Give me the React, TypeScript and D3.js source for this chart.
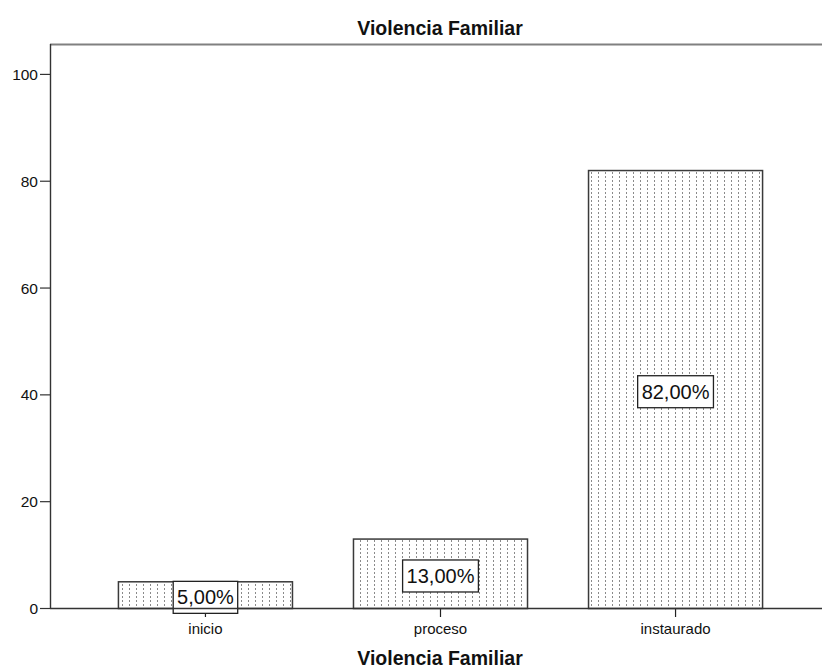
import React from "react";
import * as d3 from "d3";

const categories = ["inicio", "proceso", "instaurado"];
const values = [5, 13, 82];
const labels = ["5,00%", "13,00%", "82,00%"];
const yTicks = [0, 20, 40, 60, 80, 100];
const title = "Violencia Familiar";
const xTitle = "Violencia Familiar";

export default function App() {
  const W = 822, H = 669;
  const left = 50, top = 44, bottom = 608;
  const y = d3.scaleLinear().domain([0, 105.6]).range([bottom, top]);
  const x = d3
    .scaleBand<string>()
    .domain(categories)
    .range([left, 831])
    .paddingInner(60 / 235)
    .paddingOuter(0.289);
  const bw = x.bandwidth();
  const font = "Arial, 'Liberation Sans', sans-serif";
  return (
    <svg
      width={W}
      height={H}
      style={{ position: "absolute", left: 0, top: 0, fontFamily: font }}
    >
      <defs>
        <pattern id="dots" patternUnits="userSpaceOnUse" width={7} height={4} x={0} y={0}>
          <rect x={3} y={0} width={1} height={2} fill="#8a8a8a" />
        </pattern>
      </defs>
      <rect x={0} y={0} width={W} height={H} fill="#fff" />
      <text x={440} y={35} textAnchor="middle" fontSize={19.5} fontWeight="bold" fill="#111">
        {title}
      </text>
      {/* frame */}
      <line x1={left} x2={W} y1={top + 0.5} y2={top + 0.5} stroke="#808080" strokeWidth={2} />
      {categories.map((c, i) => {
        const x0 = x(c)!;
        const yt = y(values[i]);
        const cx = x0 + bw / 2;
        const cy = (yt + bottom) / 2 + 2.7;
        const tw = labels[i].length * 11.3 + 8;
        return (
          <g key={c}>
            <rect x={x0} y={yt} width={bw} height={bottom - yt} fill="url(#dots)" />
            <rect x={x0 + 0.5} y={yt + 0.5} width={bw - 1} height={bottom - yt} fill="none" stroke="#3a3a3a" strokeWidth={1.5} />
            <line x1={cx} x2={cx} y1={bottom} y2={bottom + 9} stroke="#222" strokeWidth={1.2} />
            <rect x={cx - tw / 2} y={cy - 16} width={tw} height={32} fill="#fff" stroke="#222" strokeWidth={1.3} />
            <text x={cx} y={cy + 7} textAnchor="middle" fontSize={20} fill="#111">
              {labels[i]}
            </text>
            <text x={cx} y={634} textAnchor="middle" fontSize={15} fill="#111">
              {c}
            </text>
          </g>
        );
      })}
      <line x1={left} x2={W} y1={bottom + 0.5} y2={bottom + 0.5} stroke="#333" strokeWidth={1.4} />
      <line x1={left + 0.5} x2={left + 0.5} y1={top} y2={bottom + 1} stroke="#333" strokeWidth={1.4} />
      {yTicks.map((t) => (
        <g key={t}>
          <line x1={40} x2={left} y1={y(t) + 0.5} y2={y(t) + 0.5} stroke="#333" strokeWidth={1.2} />
          <text x={38} y={y(t) + 6} textAnchor="end" fontSize={15.5} fill="#111">
            {t}
          </text>
        </g>
      ))}
      <text x={440} y={665} textAnchor="middle" fontSize={19.5} fontWeight="bold" fill="#111">
        {xTitle}
      </text>
    </svg>
  );
}
